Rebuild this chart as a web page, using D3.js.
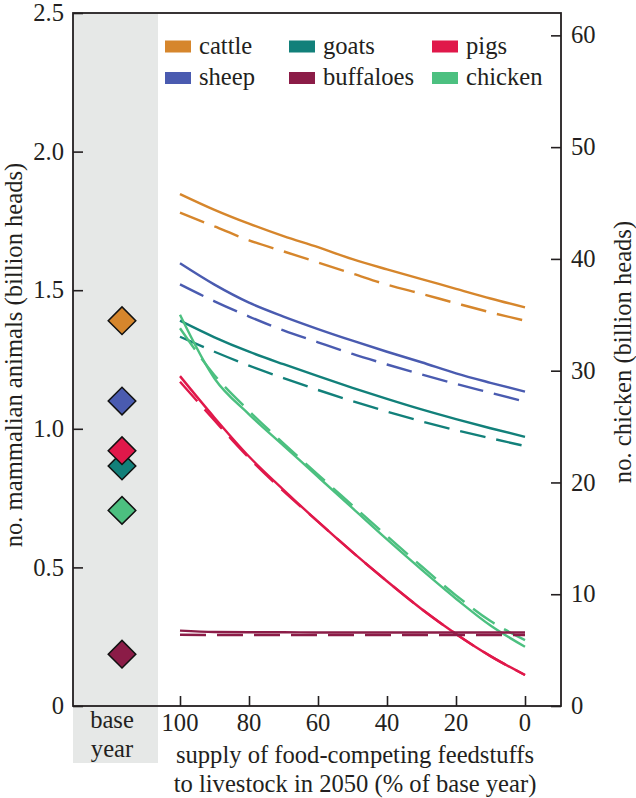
<!DOCTYPE html>
<html><head><meta charset="utf-8">
<script src="https://cdn.jsdelivr.net/npm/d3@7"></script>
<style>body{margin:0;background:#fff}svg{display:block}svg text{font-family:"Liberation Serif","Times New Roman",Times,"DejaVu Serif",serif;fill:#231f20}</style>
</head><body><svg id="c" width="636" height="798"></svg>
<script>
const supply = [100, 90, 80, 70, 60, 50, 40, 30, 20, 10, 0];
const species = ["cattle", "sheep", "goats", "pigs", "buffaloes", "chicken"];
const colors = ["#d6862c", "#4a5bb0", "#12807a", "#e0184a", "#8b1c47", "#4cc080"];
const legendOrder = ["cattle", "goats", "pigs", "sheep", "buffaloes", "chicken"];
// base-year values (mammals: billion heads, left axis; chicken: billion heads, right axis)
const baseYear = [1.39, 1.10, 0.866, 0.921, 0.187, 17.5];
// scenario A (solid)
const cattleSolid = [1.847, 1.79, 1.74, 1.695, 1.655, 1.612, 1.575, 1.54, 1.505, 1.47, 1.438];
const sheepSolid = [1.597, 1.52, 1.455, 1.405, 1.36, 1.318, 1.278, 1.24, 1.2, 1.166, 1.134];
const goatsSolid = [1.39, 1.33, 1.278, 1.233, 1.19, 1.148, 1.108, 1.07, 1.035, 1.002, 0.971];
const pigsSolid = [1.19, 1.04, 0.90, 0.78, 0.665, 0.555, 0.45, 0.35, 0.26, 0.18, 0.112];
const buffaloesSolid = [0.272, 0.267, 0.266, 0.266, 0.265, 0.265, 0.265, 0.265, 0.265, 0.265, 0.265];
const chickenSolid = [35.0, 29.3, 26.1, 23.3, 20.5, 17.7, 14.9, 12.2, 9.6, 7.2, 5.3];
// scenario B (dashed)
const cattleDashed = [1.78, 1.73, 1.68, 1.64, 1.60, 1.56, 1.52, 1.487, 1.453, 1.42, 1.39];
const sheepDashed = [1.521, 1.46, 1.405, 1.355, 1.312, 1.27, 1.232, 1.196, 1.162, 1.13, 1.098];
const goatsDashed = [1.332, 1.278, 1.228, 1.183, 1.14, 1.1, 1.062, 1.027, 0.995, 0.966, 0.938];
const pigsDashed = [1.17, 1.03, 0.895, 0.775, 0.665, 0.555, 0.45, 0.35, 0.26, 0.18, 0.112];
const buffaloesDashed = [0.257, 0.256, 0.256, 0.256, 0.256, 0.256, 0.256, 0.256, 0.256, 0.256, 0.256];
const chickenDashed = [33.8, 29.6, 26.4, 23.5, 20.7, 17.95, 15.2, 12.5, 9.9, 7.6, 5.9];
const leftTicks = [0, 0.5, 1.0, 1.5, 2.0, 2.5];
const rightTicks = [0, 10, 20, 30, 40, 50, 60];
const bottomTicks = [100, 80, 60, 40, 20, 0];

const solid = [cattleSolid, sheepSolid, goatsSolid, pigsSolid, buffaloesSolid, chickenSolid];
const dashed = [cattleDashed, sheepDashed, goatsDashed, pigsDashed, buffaloesDashed, chickenDashed];

const L = 73, R = 561, T = 13, B = 706;
const svg = d3.select("#c");
const x = d3.scaleLinear().domain([100, 0]).range([180, 525]);
const yL = d3.scaleLinear().domain([0, 2.5]).range([B, T]);
const yR = d3.scaleLinear().domain([0, 62]).range([B, T]);
const yFor = s => s === "chicken" ? yR : yL;
const FS = 24.6;

// grey base-year band
svg.append("rect").attr("x", L).attr("y", T).attr("width", 85).attr("height", 763 - T).attr("fill", "#e6e8e7");

// axes
const gL = svg.append("g").attr("transform", `translate(${L},0)`)
  .call(d3.axisRight(yL).tickValues(leftTicks).tickSize(10).tickFormat(() => ""));
const gR = svg.append("g").attr("transform", `translate(${R},0)`)
  .call(d3.axisLeft(yR).tickValues(rightTicks).tickSize(10).tickFormat(() => ""));
const gB = svg.append("g").attr("transform", `translate(0,${B})`)
  .call(d3.axisTop(x).tickValues(bottomTicks).tickSize(10).tickFormat(() => ""));
[gL, gR, gB].forEach(g => { g.select(".domain").remove(); g.selectAll("text").remove(); g.selectAll("line").attr("stroke", "#231f20").attr("stroke-width", 1.6); });
// frame
svg.append("rect").attr("x", L).attr("y", T).attr("width", R - L).attr("height", B - T)
  .attr("fill", "none").attr("stroke", "#231f20").attr("stroke-width", 1.8);

// tick labels
svg.append("g").selectAll("text").data(leftTicks).join("text")
  .attr("x", 64).attr("y", d => yL(d)).attr("dy", "0.33em").attr("text-anchor", "end")
  .attr("font-size", FS).text(d => d === 0 ? "0" : d.toFixed(1));
svg.append("g").selectAll("text").data(rightTicks).join("text")
  .attr("x", 571).attr("y", d => yR(d)).attr("dy", "0.33em").attr("text-anchor", "start")
  .attr("font-size", FS).text(d => d);
svg.append("g").selectAll("text").data(bottomTicks).join("text")
  .attr("x", d => x(d)).attr("y", 731).attr("text-anchor", "middle")
  .attr("font-size", FS).text(d => d);
svg.append("text").attr("x", 112).attr("y", 728).attr("text-anchor", "middle").attr("font-size", FS).text("base");
svg.append("text").attr("x", 112).attr("y", 757).attr("text-anchor", "middle").attr("font-size", FS).text("year");

// axis titles
svg.append("text").attr("x", 355).attr("y", 763).attr("text-anchor", "middle").attr("font-size", FS)
  .text("supply of food-competing feedstuffs");
svg.append("text").attr("x", 355).attr("y", 792).attr("text-anchor", "middle").attr("font-size", FS)
  .text("to livestock in 2050 (% of base year)");
svg.append("text").attr("transform", "translate(22,355) rotate(-90)").attr("text-anchor", "middle")
  .attr("font-size", FS).text("no. mammalian animals (billion heads)");
svg.append("text").attr("transform", "translate(631,352) rotate(-90)").attr("text-anchor", "middle")
  .attr("font-size", FS).text("no. chicken (billion heads)");

// lines
const drawOrder = ["cattle", "sheep", "goats", "chicken", "pigs", "buffaloes"];
const gLines = svg.append("g");
drawOrder.forEach(s => {
  const i = species.indexOf(s);
  const yS = yFor(s);
  const line = d3.line().x((d, j) => x(supply[j])).y(d => yS(d)).curve(d3.curveMonotoneX);
  gLines.append("path").datum(dashed[i]).attr("d", line).attr("fill", "none")
    .attr("stroke", colors[i]).attr("stroke-width", 2.4).attr("stroke-dasharray", "26,11");
  gLines.append("path").datum(solid[i]).attr("d", line).attr("fill", "none")
    .attr("stroke", colors[i]).attr("stroke-width", 2.4);
});

// base-year diamonds
const dOrder = ["cattle", "sheep", "goats", "pigs", "chicken", "buffaloes"];
svg.append("g").selectAll("path").data(dOrder).join("path")
  .attr("transform", s => `translate(122,${yFor(s)(baseYear[species.indexOf(s)])}) rotate(45)`)
  .attr("d", d3.symbol().type(d3.symbolSquare).size(380))
  .attr("fill", s => colors[species.indexOf(s)]).attr("stroke", "#111").attr("stroke-width", 1.5);

// legend
const colX = [165, 289, 432], rowY = [46.5, 78];
const lg = svg.append("g").selectAll("g").data(legendOrder).join("g")
  .attr("transform", (s, k) => `translate(${colX[k % 3]},${rowY[Math.floor(k / 3)]})`);
lg.append("rect").attr("x", 0).attr("y", -6).attr("width", 26).attr("height", 12)
  .attr("fill", s => colors[species.indexOf(s)]);
lg.append("text").attr("x", 34).attr("y", 0).attr("dy", "0.3em").attr("font-size", FS).text(s => s);
</script></body></html>
